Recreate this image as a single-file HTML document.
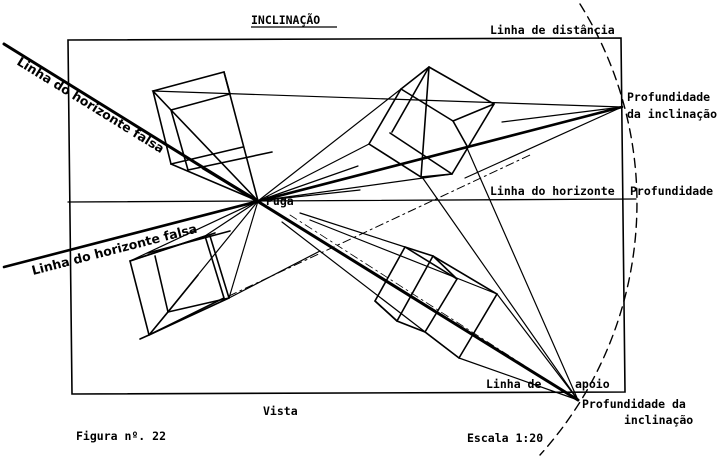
<!DOCTYPE html>
<html><head><meta charset="utf-8"><style>
html,body{margin:0;padding:0;background:#fff;}
svg{display:block;}
text{font-family:"DejaVu Sans Mono","Liberation Mono",monospace;font-weight:bold;font-size:11.5px;fill:#000;}
</style></head><body>
<svg width="720" height="462" viewBox="0 0 720 462" xmlns="http://www.w3.org/2000/svg">
<g fill="none" stroke="#000" stroke-linecap="round">
<path d="M68,40 L621,38 L625,392 L72,394 Z" stroke-width="1.6"/>
<line x1="68" y1="202" x2="636" y2="199" stroke-width="1.3"/>
<path d="M580,4 A376,376 0 0 1 540,455" stroke-width="1.4" stroke-dasharray="9,6"/>
<line x1="4" y1="44" x2="578" y2="400" stroke-width="3"/>
<line x1="4" y1="267" x2="622" y2="107" stroke-width="2.6"/>
<line x1="229" y1="296" x2="530" y2="155" stroke-width="1" stroke-dasharray="8,4,2,4"/>
<line x1="290" y1="215" x2="578" y2="400" stroke-width="0.8" stroke-dasharray="8,4,2,4"/>
<g stroke-width="1.2">
<line x1="153" y1="91" x2="622" y2="107"/>
<line x1="258" y1="201" x2="622" y2="107"/>
<line x1="502" y1="122" x2="622" y2="107"/>
<line x1="465" y1="178" x2="622" y2="107"/>
<line x1="369" y1="144" x2="258" y2="201"/>
<line x1="401" y1="89" x2="258" y2="201"/>
<line x1="452" y1="174" x2="258" y2="201"/>
<line x1="258" y1="201" x2="360" y2="190"/>
<line x1="258" y1="201" x2="358" y2="166"/>
<line x1="422" y1="177" x2="578" y2="400"/>
<line x1="467" y1="148" x2="578" y2="400"/>
<line x1="300" y1="213" x2="405" y2="247"/>
<line x1="310" y1="220" x2="497" y2="294"/>
<line x1="282" y1="222" x2="459" y2="358"/>
<line x1="459" y1="358" x2="578" y2="400"/>
<line x1="497" y1="294" x2="578" y2="400"/>
<line x1="258" y1="201" x2="205" y2="236"/>
<line x1="258" y1="201" x2="229" y2="298"/>
<line x1="258" y1="201" x2="130" y2="261"/>
<line x1="258" y1="201" x2="149" y2="335"/>
<line x1="229" y1="298" x2="320" y2="251"/>
</g>
<g stroke-width="1.6">
<path d="M153,91 L224,72 L230,94 L171,110 Z"/>
<line x1="224" y1="72" x2="258" y2="201"/>
<line x1="153" y1="91" x2="171" y2="164"/>
<line x1="171" y1="110" x2="188" y2="170"/>
<line x1="171" y1="164" x2="243" y2="147"/>
<line x1="171" y1="164" x2="258" y2="201"/>
<line x1="188" y1="170" x2="272" y2="152"/>
<line x1="171" y1="110" x2="258" y2="201"/>
<line x1="203" y1="168" x2="258" y2="201" stroke-width="3"/>
</g>
<g stroke-width="1.6">
<path d="M429,67 L494,104 L452,174 L421,177 L369,144 L401,89 Z"/>
<line x1="401" y1="89" x2="453" y2="121"/>
<line x1="453" y1="121" x2="494" y2="104"/>
<line x1="453" y1="121" x2="467" y2="146"/>
<line x1="429" y1="67" x2="392" y2="132"/>
<line x1="390" y1="133" x2="452" y2="174"/>
<line x1="429" y1="67" x2="421" y2="177"/>
</g>
<g stroke-width="1.6">
<path d="M130,261 L205,236 L224,298 L149,335 Z"/>
<line x1="155" y1="256" x2="168" y2="312"/>
<line x1="168" y1="312" x2="229" y2="298"/>
<line x1="210" y1="236" x2="229" y2="298"/>
<line x1="149" y1="335" x2="168" y2="312"/>
<line x1="149" y1="335" x2="229" y2="298"/>
<line x1="140" y1="339" x2="149" y2="335"/>
<line x1="168" y1="312" x2="198" y2="275"/>
<line x1="130" y1="261" x2="215" y2="233"/>
<line x1="148" y1="253" x2="230" y2="231"/>
</g>
<g stroke-width="1.6">
<path d="M405,247 L433,256 L497,294 L459,358 L425,332 L397,321 L375,301 Z"/>
<line x1="433" y1="256" x2="397" y2="321"/>
<line x1="457" y1="279" x2="425" y2="332"/>
<line x1="405" y1="247" x2="457" y2="279"/>
<line x1="433" y1="256" x2="457" y2="279"/>
<line x1="375" y1="301" x2="397" y2="321"/>
</g>
</g>
<text x="251" y="24">INCLINAÇÃO</text>
<line x1="251" y1="27" x2="337" y2="27" stroke="#000" stroke-width="1.2"/>
<text x="490" y="34">Linha de distância</text>
<text x="627" y="101">Profundidade</text>
<text x="627" y="118">da inclinação</text>
<text x="490" y="195">Linha do horizonte</text>
<text x="630" y="195">Profundidade</text>
<text x="266" y="205">Puga</text>
<text x="486" y="388">Linha de</text>
<text x="575" y="388">apoio</text>
<text x="582" y="408">Profundidade da</text>
<text x="624" y="424">inclinação</text>
<text x="263" y="415">Vista</text>
<text x="76" y="440">Figura nº. 22</text>
<text x="467" y="442">Escala 1:20</text>
<text transform="translate(16,64) rotate(31.7)" style="font-family:'DejaVu Sans','Liberation Sans',sans-serif;font-size:12.5px">Linha do horizonte falsa</text>
<text transform="translate(33,275) rotate(-14.5)" style="font-family:'DejaVu Sans','Liberation Sans',sans-serif;font-size:12.5px">Linha do horizonte falsa</text>
</svg>
</body></html>
